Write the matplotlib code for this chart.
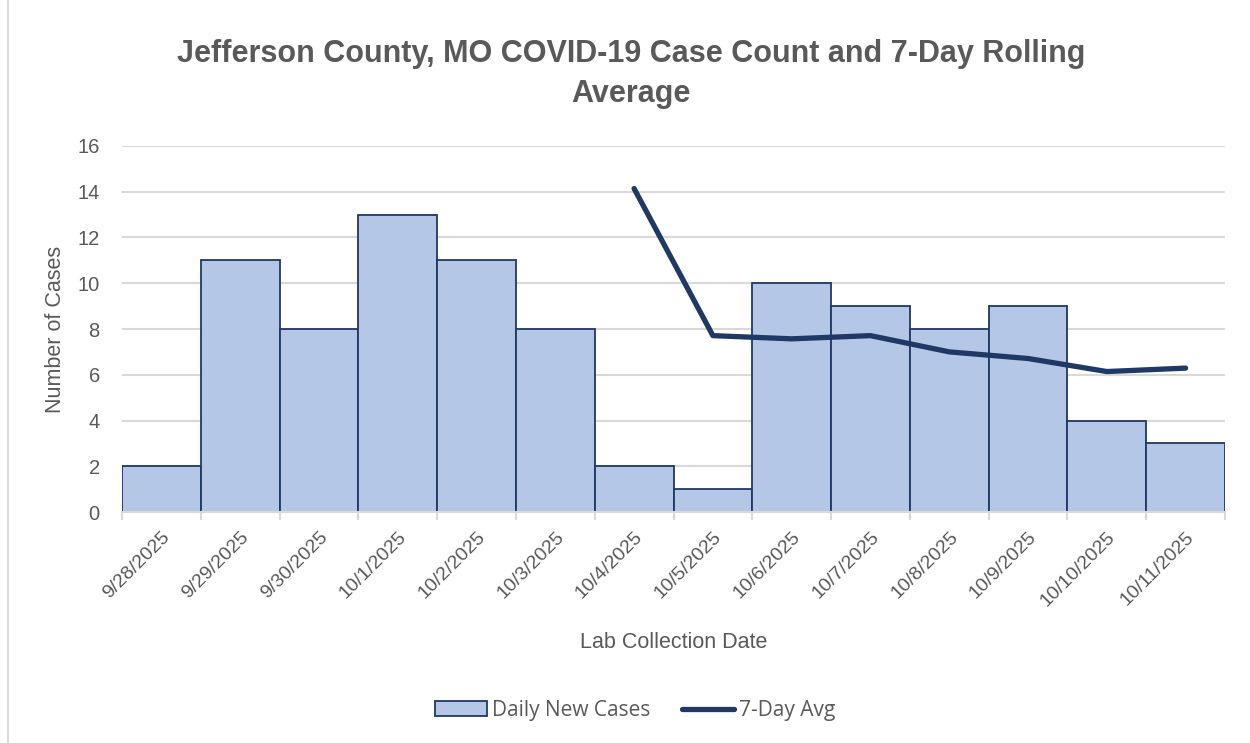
import matplotlib.pyplot as plt
from matplotlib.patches import Rectangle
import numpy as np

dates = ['9/28/2025', '9/29/2025', '9/30/2025', '10/1/2025', '10/2/2025', '10/3/2025',
         '10/4/2025', '10/5/2025', '10/6/2025', '10/7/2025', '10/8/2025', '10/9/2025',
         '10/10/2025', '10/11/2025']
daily_cases = [2, 11, 8, 13, 11, 8, 2, 1, 10, 9, 8, 9, 4, 3]
# 7-day avg only shown from 10/4 onward
avg_dates = ['10/4/2025', '10/5/2025', '10/6/2025', '10/7/2025', '10/8/2025',
             '10/9/2025', '10/10/2025', '10/11/2025']
avg_values = [14.14, 7.71, 7.57, 7.71, 7.0, 6.71, 6.14, 6.29]

bar_color = '#B4C7E7'
navy = '#203864'
gray_text = '#595959'
grid_color = '#D9D9D9'

plt.rcParams['font.family'] = ['Liberation Sans', 'DejaVu Sans']

fig = plt.figure(figsize=(12.5, 7.43), dpi=100)
ax = fig.add_axes([0.0976, 0.3109, 0.8824, 0.4926])

x = np.arange(len(dates))
bars = ax.bar(x, daily_cases, width=1.0, color=bar_color, edgecolor=navy, linewidth=1.3,
              label='Daily New Cases', zorder=2)
avg_x = [dates.index(d) for d in avg_dates]
line, = ax.plot(avg_x, avg_values, color=navy, linewidth=3.8, solid_capstyle='round',
                label='7-Day Avg', zorder=3)

ax.set_xlim(-0.5, len(dates) - 0.5)
ax.set_ylim(0, 16)
ax.set_yticks(range(0, 17, 2))
ax.yaxis.grid(True, color=grid_color, linewidth=1.5, zorder=0)
ax.set_axisbelow(True)

ax.set_xticks(x)
ax.set_xticklabels(dates, rotation=45, ha='right', va='top', rotation_mode='anchor')
ax.set_xticks(np.arange(-0.5, len(dates), 1.0), minor=True)
ax.tick_params(axis='x', which='major', length=0, pad=12, labelsize=14, labelcolor=gray_text)
ax.tick_params(axis='x', which='minor', length=6, width=1.5, color=grid_color)
ax.tick_params(axis='y', length=0, pad=16, labelsize=14.5, labelcolor=gray_text)

for side in ['top', 'right', 'left']:
    ax.spines[side].set_visible(False)
ax.spines['bottom'].set_color(grid_color)
ax.spines['bottom'].set_linewidth(1.5)

ax.set_ylabel('Number of Cases', fontsize=15.5, color=gray_text, labelpad=8)
ax.set_xlabel('Lab Collection Date', fontsize=15.5, color=gray_text, labelpad=16)

fig.suptitle('Jefferson County, MO COVID-19 Case Count and 7-Day Rolling\nAverage',
             x=0.505, y=0.948, fontsize=22, fontweight='bold', color=gray_text,
             linespacing=1.45)

fig.legend([bars, line], ['Daily New Cases', '7-Day Avg'], loc='center',
           bbox_to_anchor=(0.508, 0.044), ncol=2, frameon=False,
           prop={'family': 'Open Sans', 'size': 15}, labelcolor=gray_text,
           handlelength=2.5, handleheight=0.7, handletextpad=0.25, columnspacing=1.5)

fig.patches.append(Rectangle((0.006, -0.01), 1.0, 1.02, transform=fig.transFigure,
                             fill=False, edgecolor=grid_color, linewidth=1.5))

fig.savefig('out.png', dpi=100)
